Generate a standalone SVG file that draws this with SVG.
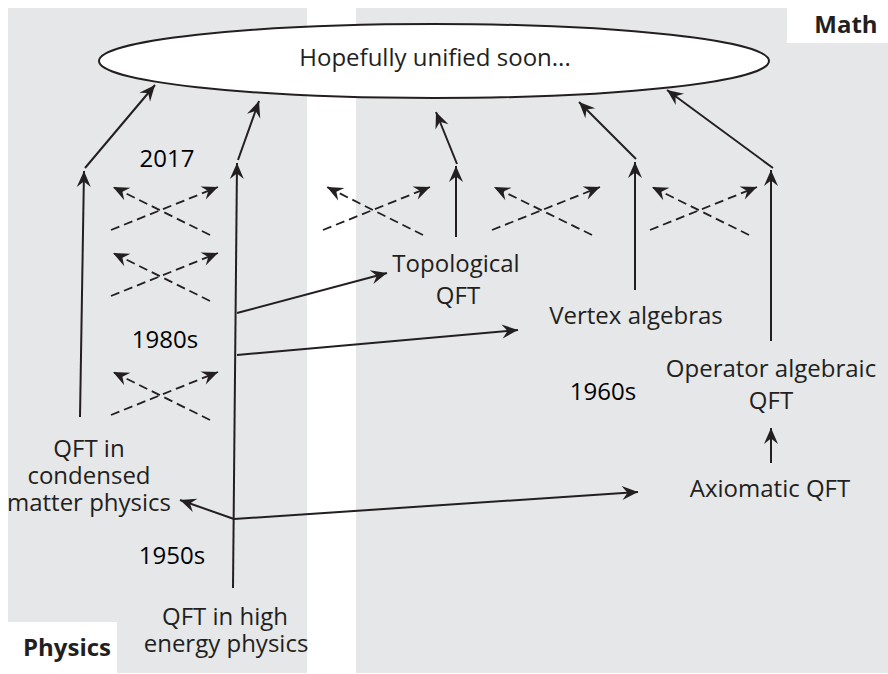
<svg xmlns="http://www.w3.org/2000/svg" width="888" height="674" viewBox="0 0 888 674">
<style>
.bg{fill:#e6e7e8}
.lbl{font-family:"Open Sans","Noto Sans","Liberation Sans",sans-serif;font-size:24px;fill:#231f20;text-anchor:middle}
.yr{font-family:"Open Sans","Noto Sans","Liberation Sans",sans-serif;font-size:24px;fill:#000;text-anchor:middle}
.hd{font-family:"Open Sans","Noto Sans","Liberation Sans",sans-serif;font-size:24px;font-weight:bold;fill:#231f20;text-anchor:middle}
.s{stroke:#231f20;stroke-width:2;fill:none;marker-end:url(#ah)}
.d{stroke:#231f20;stroke-width:1.8;fill:none;stroke-dasharray:9 5;marker-end:url(#ah)}
</style>
<defs>
<marker id="ah" markerUnits="userSpaceOnUse" markerWidth="20" markerHeight="16" viewBox="-17 -8 19 16" refX="0" refY="0" orient="auto" overflow="visible">
<path d="M0,0 L-16,-7 L-10.5,0 L-16,7 Z" fill="#231f20"/>
</marker>
</defs>
<rect width="888" height="674" fill="#fff"/>
<g id="panels">
<rect class="bg" x="8" y="8" width="299" height="665"/>
<rect class="bg" x="356" y="8" width="532" height="665"/>
<rect x="787" y="8" width="101" height="35" fill="#fff"/>
<rect x="0" y="622" width="117" height="52" fill="#fff"/>
</g>
<g id="connectors">
<line class="s" x1="80" y1="417" x2="84" y2="171"/>
<line class="s" x1="85" y1="168" x2="155" y2="85"/>
<line class="s" x1="233" y1="588" x2="237" y2="163"/>
<line class="s" x1="238" y1="160" x2="259" y2="101"/>
<line class="s" x1="237" y1="313" x2="387" y2="273"/>
<line class="s" x1="237" y1="355" x2="518" y2="330"/>
<line class="s" x1="234" y1="519" x2="638" y2="492"/>
<line class="s" x1="234" y1="519" x2="180" y2="500"/>
<line class="s" x1="456" y1="237" x2="456" y2="166"/>
<line class="s" x1="457" y1="164" x2="436" y2="112"/>
<line class="s" x1="635" y1="290" x2="635" y2="162"/>
<line class="s" x1="636" y1="159" x2="579" y2="102"/>
<line class="s" x1="771" y1="341" x2="771" y2="170"/>
<line class="s" x1="773" y1="168" x2="667" y2="90"/>
<line class="s" x1="771" y1="463" x2="771" y2="428"/>
<line class="d" x1="111" y1="230" x2="218" y2="187"/>
<line class="d" x1="210" y1="235" x2="113" y2="187"/>
<line class="d" x1="111" y1="296" x2="218" y2="253"/>
<line class="d" x1="210" y1="301" x2="113" y2="253"/>
<line class="d" x1="111" y1="415" x2="218" y2="372"/>
<line class="d" x1="210" y1="420" x2="113" y2="372"/>
<line class="d" x1="323" y1="230" x2="430" y2="187"/>
<line class="d" x1="423" y1="235" x2="327" y2="187"/>
<line class="d" x1="492" y1="230" x2="600" y2="187"/>
<line class="d" x1="592" y1="235" x2="494" y2="187"/>
<line class="d" x1="650" y1="230" x2="757" y2="187"/>
<line class="d" x1="749" y1="235" x2="652" y2="187"/>
</g>
<g id="unified">
<ellipse cx="434" cy="61" rx="335" ry="37" fill="#fff" stroke="#231f20" stroke-width="2"/>
<text class="lbl" x="435" y="66">Hopefully unified soon...</text>
</g>
<g id="math"><text class="hd" x="846" y="33">Math</text></g>
<g id="physics"><text class="hd" x="67" y="656">Physics</text></g>
<g id="years">
<text class="yr" x="167" y="167">2017</text>
<text class="yr" x="165" y="348">1980s</text>
<text class="yr" x="603" y="400">1960s</text>
<text class="yr" x="172" y="564">1950s</text>
</g>
<g id="topological"><text class="lbl" x="456" y="272">Topological</text><text class="lbl" x="458" y="304">QFT</text></g>
<g id="vertex"><text class="lbl" x="636" y="324">Vertex algebras</text></g>
<g id="operator"><text class="lbl" x="771" y="377">Operator algebraic</text><text class="lbl" x="771" y="409">QFT</text></g>
<g id="axiomatic"><text class="lbl" x="770" y="497">Axiomatic QFT</text></g>
<g id="condensed"><text class="lbl" x="89" y="457">QFT in</text><text class="lbl" x="89" y="484">condensed</text><text class="lbl" x="89" y="511">matter physics</text></g>
<g id="highenergy"><text class="lbl" x="225" y="625">QFT in high</text><text class="lbl" x="226" y="652">energy physics</text></g>
</svg>
